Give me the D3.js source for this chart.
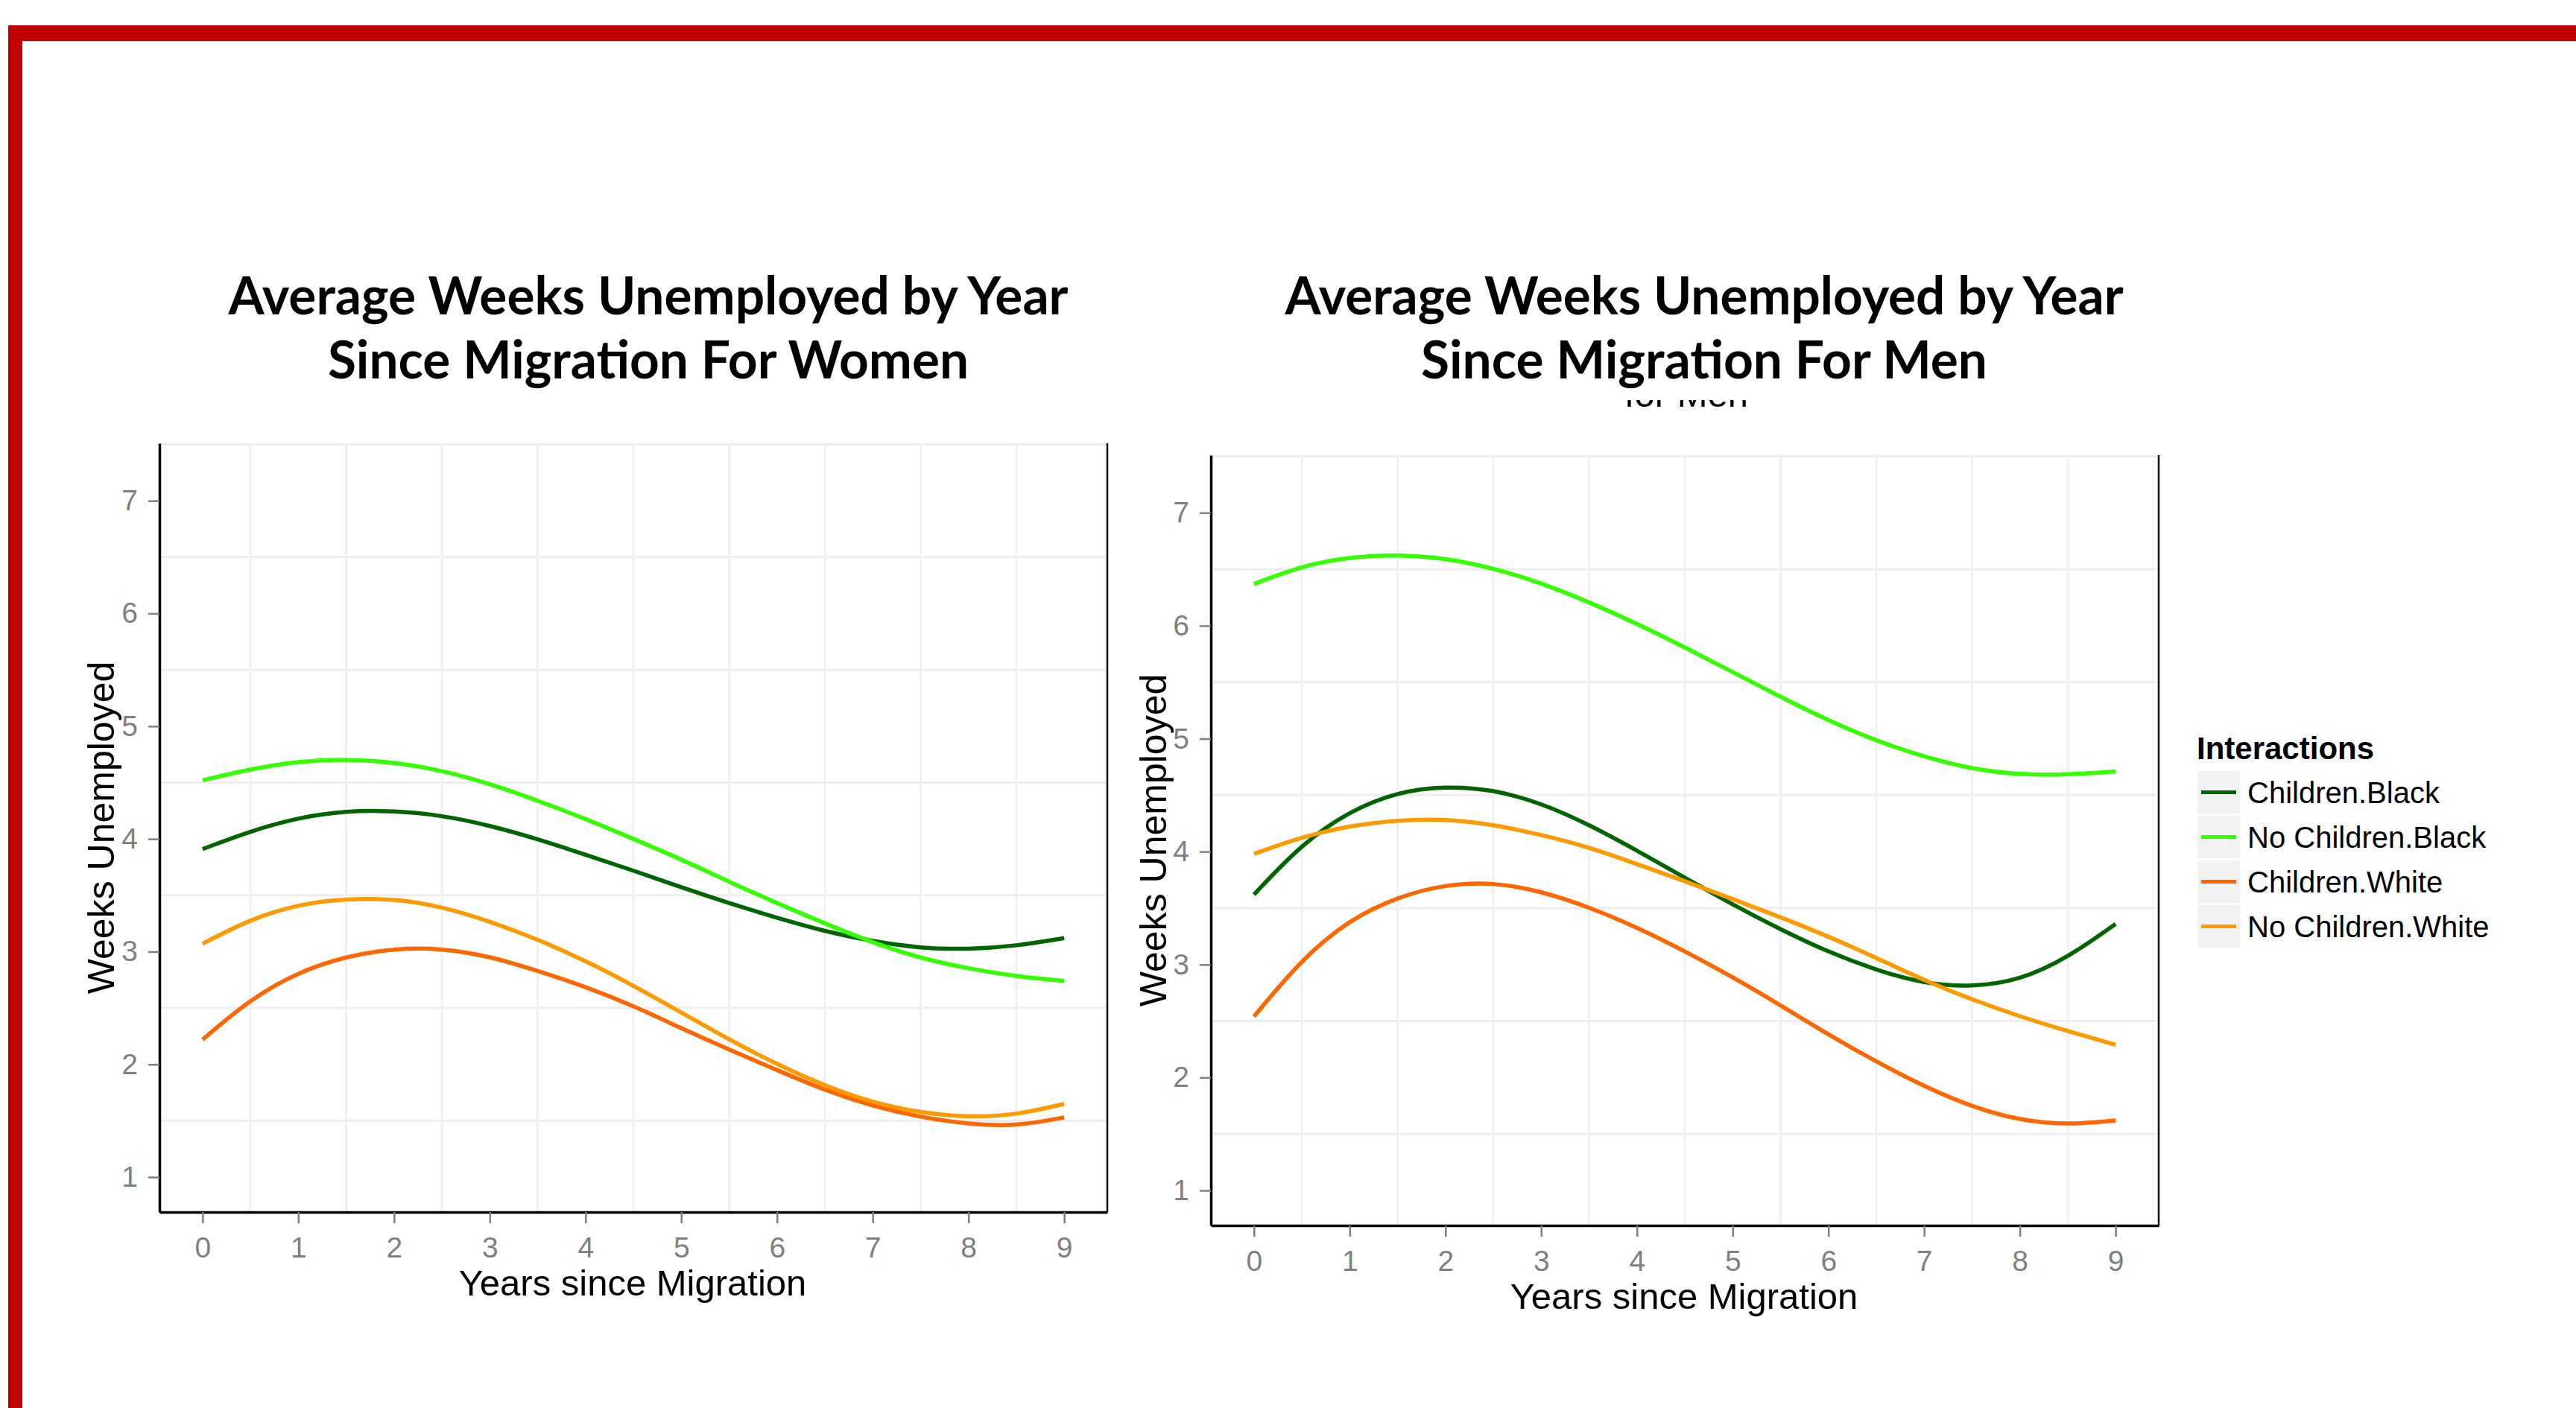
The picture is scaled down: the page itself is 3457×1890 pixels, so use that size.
<!DOCTYPE html>
<html>
<head>
<meta charset="utf-8">
<title>Average Weeks Unemployed by Year Since Migration</title>
<script src="https://cdn.jsdelivr.net/npm/d3@7"></script>
<style>
  html, body { margin: 0; padding: 0; background: #ffffff; }
  svg { display: block; }
</style>
</head>
<body>
<svg id="chart" width="3457" height="1890"></svg>
<script>
// ---- data ---------------------------------------------------------------
const years = [0, 0.5, 1, 1.5, 2, 2.5, 3, 3.5, 4, 4.5, 5, 5.5, 6, 6.5, 7, 7.5, 8, 8.5, 9];
const xTicks = [0, 1, 2, 3, 4, 5, 6, 7, 8, 9];
const yTicks = [1, 2, 3, 4, 5, 6, 7];
const seriesNames = ["Children.Black", "No Children.Black", "Children.White", "No Children.White"];

// Women
const womenChildrenBlack   = [3.91, 4.07, 4.19, 4.25, 4.25, 4.21, 4.12, 4.00, 3.86, 3.72, 3.57, 3.43, 3.30, 3.18, 3.09, 3.03, 3.02, 3.05, 3.12];
const womenNoChildrenBlack = [4.52, 4.62, 4.69, 4.71, 4.68, 4.61, 4.49, 4.34, 4.18, 4.00, 3.82, 3.62, 3.43, 3.25, 3.08, 2.94, 2.85, 2.78, 2.74];
const womenChildrenWhite   = [2.22, 2.58, 2.82, 2.96, 3.03, 3.03, 2.96, 2.83, 2.69, 2.52, 2.32, 2.13, 1.95, 1.77, 1.63, 1.53, 1.47, 1.45, 1.53];
const womenNoChildrenWhite = [3.07, 3.29, 3.42, 3.47, 3.47, 3.40, 3.27, 3.11, 2.92, 2.70, 2.46, 2.22, 2.00, 1.81, 1.66, 1.57, 1.53, 1.55, 1.65];

// Men
const menChildrenBlack   = [3.62, 4.07, 4.36, 4.53, 4.58, 4.55, 4.43, 4.24, 4.01, 3.77, 3.53, 3.31, 3.11, 2.95, 2.83, 2.80, 2.86, 3.06, 3.36];
const menNoChildrenBlack = [6.37, 6.53, 6.61, 6.63, 6.60, 6.51, 6.38, 6.21, 6.02, 5.81, 5.59, 5.37, 5.16, 4.98, 4.84, 4.73, 4.68, 4.68, 4.71];
const menChildrenWhite   = [2.54, 3.05, 3.40, 3.60, 3.71, 3.73, 3.65, 3.51, 3.33, 3.12, 2.89, 2.64, 2.38, 2.14, 1.92, 1.74, 1.62, 1.58, 1.62];
const menNoChildrenWhite = [3.98, 4.13, 4.23, 4.28, 4.29, 4.24, 4.15, 4.04, 3.89, 3.74, 3.58, 3.42, 3.25, 3.06, 2.86, 2.69, 2.54, 2.41, 2.29];

const titleWomen = ["Average Weeks Unemployed by Year", "Since Migration For Women"];
const titleMen   = ["Average Weeks Unemployed by Year", "Since Migration For Men"];
const xAxisTitle = "Years since Migration";
const yAxisTitle = "Weeks Unemployed";
const legendTitle = "Interactions";

// ---- styling / layout ---------------------------------------------------
const colors = {
  "Children.Black": "#006400",
  "No Children.Black": "#33FF00",
  "Children.White": "#FF6600",
  "No Children.White": "#FF9900"
};
const axisFont = "'Liberation Sans', Arial, sans-serif";
const titleFont = "Lato, 'Open Sans', sans-serif";

const svg = d3.select("#chart");

// slide frame
svg.append("rect").attr("x", 11).attr("y", 34).attr("width", 3457 - 11).attr("height", 21).attr("fill", "#C00000");
svg.append("rect").attr("x", 11).attr("y", 34).attr("width", 19).attr("height", 1890 - 34).attr("fill", "#C00000");

const panels = [
  {
    title: titleWomen, titleX: 870, titleWidths: [1127, 860],
    left: 214, right: 1486, top: 595, bottom: 1627,
    yTitleX: 153, xTitleY: 1739,
    series: [womenChildrenBlack, womenNoChildrenBlack, womenChildrenWhite, womenNoChildrenWhite]
  },
  {
    title: titleMen, titleX: 2287, titleWidths: [1125, 760],
    left: 1625, right: 2897, top: 611, bottom: 1645,
    yTitleX: 1565, xTitleY: 1757,
    series: [menChildrenBlack, menNoChildrenBlack, menChildrenWhite, menNoChildrenWhite]
  }
];

panels.forEach((p) => {
  const x = d3.scaleLinear().domain([-0.45, 9.45]).range([p.left, p.right]);
  const y = d3.scaleLinear().domain([0.69, 7.51]).range([p.bottom, p.top]);

  // slide title (two lines)
  p.title.forEach((line, i) => {
    svg.append("text")
      .attr("x", p.titleX).attr("y", 422 + i * 86)
      .attr("text-anchor", "middle")
      .attr("font-family", titleFont).attr("font-weight", 700)
      .attr("font-size", 70)
      .attr("textLength", p.titleWidths[i])
      .attr("lengthAdjust", "spacingAndGlyphs")
      .attr("fill", "#000")
      .text(line);
  });

  const g = svg.append("g");

  // panel background
  g.append("rect").attr("x", p.left).attr("y", p.top)
    .attr("width", p.right - p.left).attr("height", p.bottom - p.top)
    .attr("fill", "#ffffff");

  // light grid at the half steps
  const hGrid = [1.5, 2.5, 3.5, 4.5, 5.5, 6.5, 7.5];
  const vGrid = [0.5, 1.5, 2.5, 3.5, 4.5, 5.5, 6.5, 7.5, 8.5];
  g.append("g").selectAll("line").data(hGrid).join("line")
    .attr("x1", p.left).attr("x2", p.right)
    .attr("y1", d => y(d)).attr("y2", d => y(d))
    .attr("stroke", "#eeeeee").attr("stroke-width", 3);
  g.append("g").selectAll("line").data(vGrid).join("line")
    .attr("y1", p.top).attr("y2", p.bottom)
    .attr("x1", d => x(d)).attr("x2", d => x(d))
    .attr("stroke", "#f0f0f0").attr("stroke-width", 3);

  // right border of the panel
  g.append("line").attr("x1", p.right).attr("x2", p.right)
    .attr("y1", p.top).attr("y2", p.bottom)
    .attr("stroke", "#111").attr("stroke-width", 2.5);

  // smoothed lines
  const line = d3.line()
    .x((d, i) => x(years[i]))
    .y(d => y(d))
    .curve(d3.curveBasis);
  p.series.forEach((vals, si) => {
    g.append("path")
      .datum(vals)
      .attr("d", line)
      .attr("fill", "none")
      .attr("stroke", colors[seriesNames[si]])
      .attr("stroke-width", 5.5)
      .attr("stroke-linejoin", "round");
  });

  // axes
  const xAxis = g.append("g")
    .attr("transform", `translate(0,${p.bottom})`)
    .call(d3.axisBottom(x).tickValues(xTicks).tickSize(15).tickSizeOuter(0).tickPadding(18).tickFormat(d3.format("d")));
  const yAxis = g.append("g")
    .attr("transform", `translate(${p.left},0)`)
    .call(d3.axisLeft(y).tickValues(yTicks).tickSize(15).tickSizeOuter(0).tickPadding(14).tickFormat(d3.format("d")));
  [xAxis, yAxis].forEach(ax => {
    ax.select(".domain").attr("stroke", "#000").attr("stroke-width", 3.5);
    ax.selectAll(".tick line").attr("stroke", "#7f7f7f").attr("stroke-width", 2.5);
    ax.selectAll(".tick text")
      .attr("font-family", axisFont).attr("font-size", 39)
      .attr("fill", "#7f7f7f");
  });

  // axis titles
  g.append("text")
    .attr("x", (p.left + p.right) / 2 - 1).attr("y", p.xTitleY)
    .attr("text-anchor", "middle")
    .attr("font-family", axisFont).attr("font-size", 49)
    .attr("fill", "#000")
    .text(xAxisTitle);
  g.append("text")
    .attr("transform", `translate(${p.yTitleX},${(p.top + p.bottom) / 2})rotate(-90)`)
    .attr("text-anchor", "middle")
    .attr("font-family", axisFont).attr("font-size", 50)
    .attr("fill", "#000")
    .text(yAxisTitle);
});

// the tail of the men's plot title, mostly covered by the slide title
const clip = svg.append("clipPath").attr("id", "title-tail");
clip.append("rect").attr("x", 2100).attr("y", 537).attr("width", 350).attr("height", 14);
svg.append("text")
  .attr("clip-path", "url(#title-tail)")
  .attr("x", 2263).attr("y", 546)
  .attr("text-anchor", "middle")
  .attr("font-family", axisFont).attr("font-size", 49)
  .attr("fill", "#000")
  .text("for Men");

// legend
const legend = svg.append("g").attr("transform", "translate(2948,0)");
legend.append("text")
  .attr("x", 0).attr("y", 1019)
  .attr("font-family", axisFont).attr("font-weight", 700).attr("font-size", 42)
  .attr("fill", "#000")
  .text(legendTitle);
const items = legend.selectAll("g.item").data(seriesNames).join("g")
  .attr("class", "item")
  .attr("transform", (d, i) => `translate(1,${1035 + i * 60})`);
items.append("rect").attr("width", 57).attr("height", 57).attr("fill", "#f2f2f2");
items.append("line").attr("x1", 5).attr("x2", 52).attr("y1", 28.5).attr("y2", 28.5)
  .attr("stroke", d => colors[d]).attr("stroke-width", 5);
items.append("text")
  .attr("x", 67).attr("y", 43)
  .attr("font-family", axisFont).attr("font-size", 40)
  .attr("fill", "#000")
  .text(d => d);
</script>
</body>
</html>
